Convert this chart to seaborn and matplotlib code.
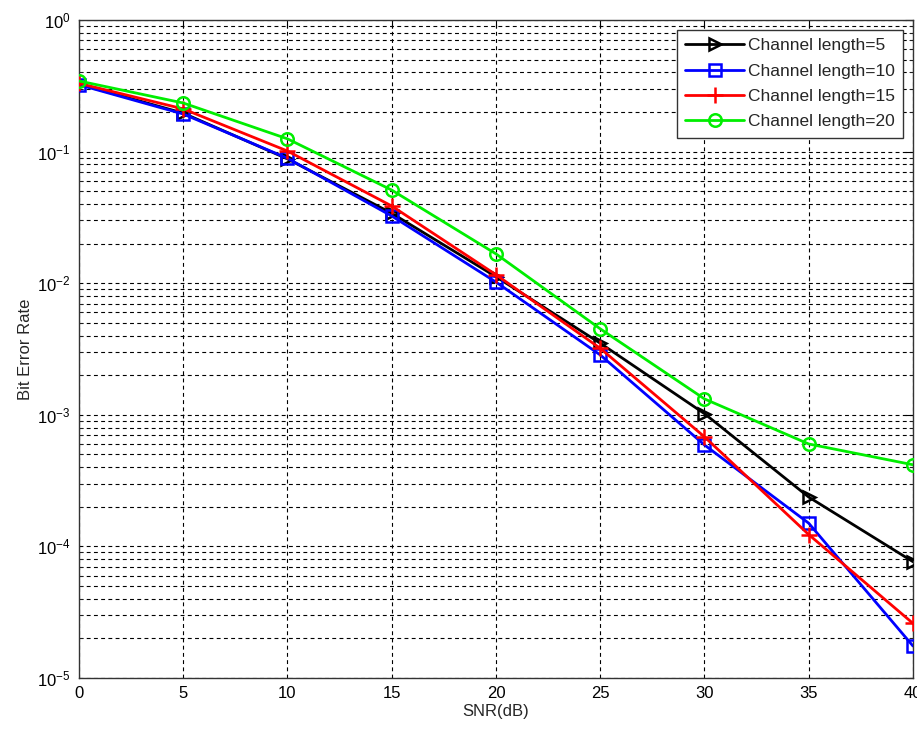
import numpy as np
import pandas as pd
import matplotlib
matplotlib.use("Agg")
import matplotlib.pyplot as plt
import seaborn as sns
from matplotlib.ticker import LogLocator, NullFormatter, FixedLocator

snr_db = [0, 5, 10, 15, 20, 25, 30, 35, 40]
ber_len5 = [0.326, 0.196, 0.088, 0.034, 0.0112, 0.0035, 0.00102, 0.000237, 0.0000765]
ber_len10 = [0.322, 0.193, 0.089, 0.0324, 0.0102, 0.00285, 0.00059, 0.000150, 0.0000175]
ber_len15 = [0.330, 0.211, 0.101, 0.0386, 0.0116, 0.0032, 0.00068, 0.000123, 0.0000260]
ber_len20 = [0.344, 0.234, 0.125, 0.051, 0.0167, 0.0045, 0.00132, 0.00060, 0.000417]

labels = ["Channel length=5", "Channel length=10", "Channel length=15", "Channel length=20"]
series = [ber_len5, ber_len10, ber_len15, ber_len20]
colors = ["#000000", "#0000ff", "#ff0000", "#00ee00"]
markers = [">", "s", "+", "o"]

sns.set_style("white")
plt.rcParams["font.family"] = ["Liberation Sans", "DejaVu Sans"]

fig = plt.figure(figsize=(9.17, 7.32), dpi=100)
ax = fig.add_axes([0.0861, 0.0738, 0.9095, 0.8989])

for lab, vals, col, mk in zip(labels, series, colors, markers):
    df = pd.DataFrame({"SNR": snr_db, "BER": vals})
    sns.lineplot(data=df, x="SNR", y="BER", ax=ax, color=col, marker=mk,
                 markersize=9 if mk != "+" else 11, markerfacecolor="none",
                 markeredgecolor=col, markeredgewidth=1.8, linewidth=2.0,
                 label=lab, zorder=3)

ax.set_yscale("log")
ax.set_xlim(0, 40)
ax.set_ylim(1e-5, 1e0)
ax.xaxis.set_major_locator(FixedLocator(snr_db))
ax.yaxis.set_major_locator(LogLocator(base=10, numticks=10))
ax.yaxis.set_minor_locator(LogLocator(base=10, subs=np.arange(2, 10), numticks=20))
ax.yaxis.set_minor_formatter(NullFormatter())

grid_kw = dict(color="black", linestyle=(0, (3.5, 3)), linewidth=0.8)
ax.grid(True, which="major", axis="both", **grid_kw)
ax.grid(True, which="minor", axis="y", **grid_kw)
ax.set_axisbelow(True)

ax.tick_params(axis="both", which="major", direction="in", length=6, width=0.8,
               labelsize=12, colors="black", top=True, right=True, pad=6)
ax.tick_params(axis="y", which="minor", direction="in", length=3, width=0.6,
               left=True, right=True)
for s in ax.spines.values():
    s.set_color("#333333")
    s.set_linewidth(1.0)

ax.set_xlabel("SNR(dB)", fontsize=12, labelpad=2)
ax.set_ylabel("Bit Error Rate", fontsize=12, labelpad=3)

leg = ax.legend(loc="upper right", fontsize=12.5, frameon=True, fancybox=False,
                edgecolor="#333333", framealpha=1.0, borderpad=0.5,
                handlelength=3.4, handletextpad=0.2, labelspacing=0.58,
                borderaxespad=0.55)
leg.get_frame().set_linewidth(1.0)

fig.savefig("out.png", dpi=100)
